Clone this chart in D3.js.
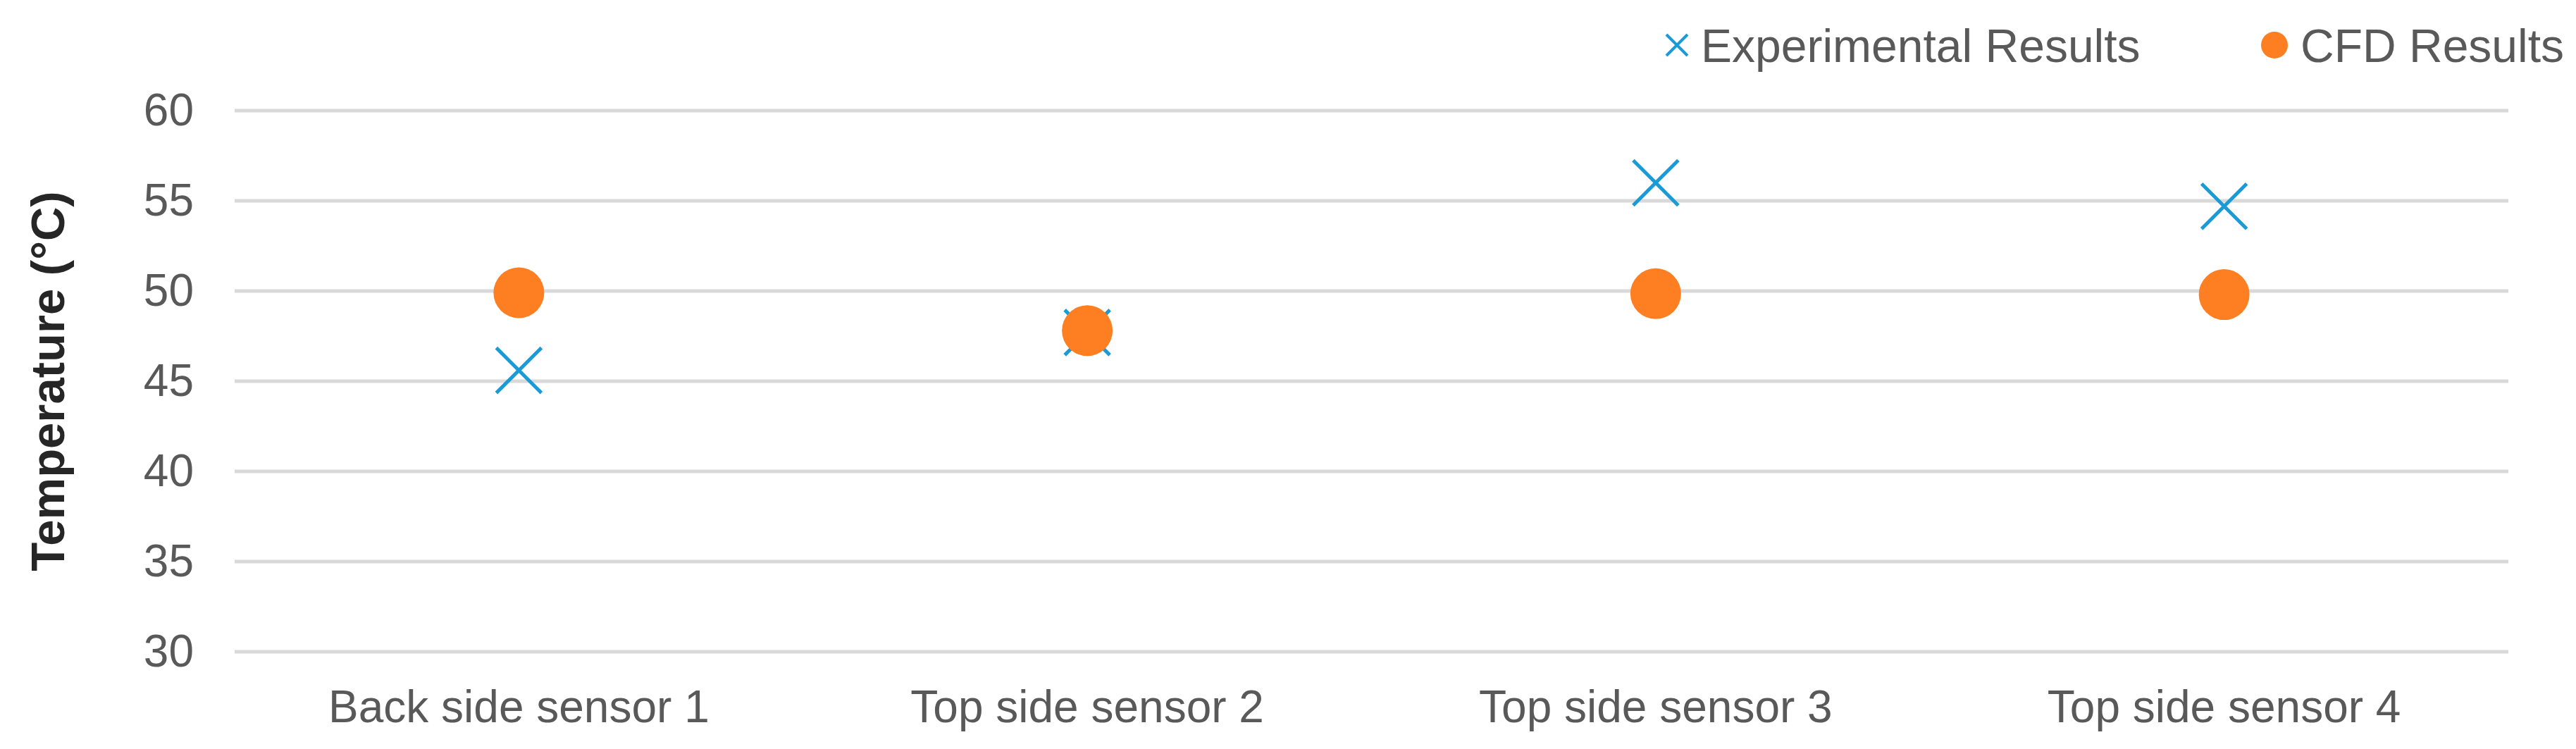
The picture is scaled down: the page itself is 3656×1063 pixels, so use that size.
<!DOCTYPE html>
<html>
<head>
<meta charset="utf-8">
<script src="https://cdn.jsdelivr.net/npm/d3@7"></script>
<style>
  body { margin: 0; background: #fff; }
  text { font-family: "Liberation Sans", Arial, sans-serif; }
</style>
</head>
<body>
<div id="vis"></div>
<script>
// chart data
const sensors = ["Back side sensor 1", "Top side sensor 2", "Top side sensor 3", "Top side sensor 4"];
const experimental = [45.6, 47.7, 56.0, 54.7];
const cfd = [49.9, 47.8, 49.85, 49.8];
const yTicks = [30, 35, 40, 45, 50, 55, 60];

const width = 3656;
const height = 1063;
const margin = { top: 157, right: 96, bottom: 138, left: 333 };

const blue = "#1a9bd7";
const orange = "#fe7f22";

const svg = d3
  .select("#vis")
  .append("svg")
  .attr("width", width)
  .attr("height", height);

const x = d3
  .scaleBand()
  .domain(sensors)
  .range([margin.left, width - margin.right]);

const y = d3
  .scaleLinear()
  .domain([30, 60])
  .range([height - margin.bottom, margin.top]);

// gridlines
svg
  .append("g")
  .selectAll("line")
  .data(yTicks)
  .enter()
  .append("line")
  .attr("x1", margin.left)
  .attr("x2", width - margin.right)
  .attr("y1", (d) => y(d))
  .attr("y2", (d) => y(d))
  .attr("stroke", "#d9d9d9")
  .attr("stroke-width", 5);

// y axis labels
const yAxis = svg
  .append("g")
  .attr("transform", `translate(${margin.left - 58},0)`)
  .call(d3.axisLeft(y).tickValues(yTicks).tickSize(0).tickPadding(0));
yAxis.select(".domain").remove();
yAxis
  .selectAll("text")
  .attr("fill", "#595959")
  .style("font-size", "64px")
  .style("font-family", '"Liberation Sans", Arial, sans-serif');

// x axis labels
const xAxis = svg
  .append("g")
  .attr("transform", `translate(0,${height - margin.bottom})`)
  .call(d3.axisBottom(x).tickSize(0).tickPadding(0));
xAxis.select(".domain").remove();
xAxis
  .selectAll("text")
  .attr("dy", 0)
  .attr("y", 100)
  .attr("fill", "#595959")
  .style("font-size", "64px")
  .style("font-family", '"Liberation Sans", Arial, sans-serif');

// y axis title
svg
  .append("text")
  .attr("transform", `translate(91,${(margin.top + height - margin.bottom) / 2}) rotate(-90)`)
  .attr("text-anchor", "middle")
  .attr("fill", "#262626")
  .style("font-size", "67px")
  .style("font-weight", "bold")
  .text("Temperature (°C)");

const cx = (i) => x(sensors[i]) + x.bandwidth() / 2;
const cross = (s) => `M${-s},${-s}L${s},${s}M${-s},${s}L${s},${-s}`;

// experimental results (x markers)
svg
  .append("g")
  .selectAll("path")
  .data(experimental)
  .enter()
  .append("path")
  .attr("transform", (d, i) => `translate(${cx(i)},${y(d)})`)
  .attr("d", cross(32))
  .attr("fill", "none")
  .attr("stroke", blue)
  .attr("stroke-width", 5);

// CFD results (circles)
svg
  .append("g")
  .selectAll("circle")
  .data(cfd)
  .enter()
  .append("circle")
  .attr("cx", (d, i) => cx(i))
  .attr("cy", (d) => y(d))
  .attr("r", 36)
  .attr("fill", orange);

// legend
const legend = svg.append("g").attr("transform", "translate(0,64)");
legend
  .append("path")
  .attr("transform", "translate(2380,0)")
  .attr("d", cross(15))
  .attr("fill", "none")
  .attr("stroke", blue)
  .attr("stroke-width", 4);
legend
  .append("text")
  .attr("x", 2414)
  .attr("y", 24)
  .attr("fill", "#595959")
  .style("font-size", "66px")
  .text("Experimental Results");
legend
  .append("circle")
  .attr("cx", 3228)
  .attr("cy", 0)
  .attr("r", 19)
  .attr("fill", orange);
legend
  .append("text")
  .attr("x", 3265)
  .attr("y", 24)
  .attr("fill", "#595959")
  .style("font-size", "66px")
  .text("CFD Results");
</script>
</body>
</html>
